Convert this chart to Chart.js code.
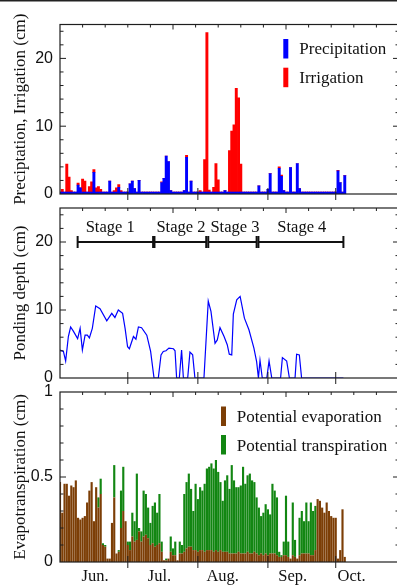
<!DOCTYPE html>
<html><head><meta charset="utf-8">
<script src="https://cdn.jsdelivr.net/npm/chart.js@4.4.0/dist/chart.umd.min.js"></script>
<style>
html,body{margin:0;padding:0;background:#fff;overflow:hidden;}
#wrap{position:relative;width:397px;height:586px;overflow:hidden;background:#fff;}
canvas{position:absolute;left:0;top:0;}
</style></head><body>
<div id="wrap">
<canvas id="c1" width="420" height="586"></canvas>
<canvas id="c2" width="420" height="586"></canvas>
<canvas id="c3" width="420" height="586"></canvas>
</div>
<script>
// ---------- axis definitions ----------
const xMin = 0, xMax = 150;              // days since 1 June
const xTickStep = 10, xMajorStep = 50;
const monthBoundaries = [30, 61, 92, 122];
const monthLabels = ['Jun.', 'Jul.', 'Aug.', 'Sep.', 'Oct.'];
const monthLabelDays = [15.5, 44, 72, 103, 129];
const lastDay = 126;

// ---------- panel 1: precipitation / irrigation (cm) ----------
const precipDays   = [8,9,15,22,26,31,32,33,35,45,46,47,48,49,50,55,56,58,73,88,92,93,97,98,99,102,105,106,123,124,126];
const precipValues = [1.3,0.9,3.2,1.9,1.0,1.5,1.9,0.8,2.0,1.7,2.3,5.6,4.8,0.5,0.2,0.5,5.4,1.9,0.5,1.2,0.7,3.0,3.8,2.6,0.5,3.9,4.5,0.8,3.4,1.7,2.7];
const irrigDays    = [1,3,4,5,8,10,11,13,14,15,16,17,18,24,25,26,27,45,56,62,64,65,66,68,69,70,75,76,77,78,79,80,97,98,123];
const irrigValues  = [0.4,4.1,2.2,0.2,0.3,1.9,1.6,0.8,1.5,0.4,0.6,0.8,0.4,0.2,0.6,0.4,0.2,0.1,0.3,0.2,4.8,23.5,0.3,0.7,4.2,1.8,6.1,9.0,9.9,15.3,13.9,4.1,0.2,0.2,0.1];

// ---------- panel 2: ponding depth (cm) ----------
const pondDay = [0,1.5,2.5,3.7,4.7,5.9,7.8,8.9,9.9,11.1,12.1,13.0,14.3,15.8,17.7,20.7,22.9,24.3,25.8,27.7,28.8,29.9,30.7,32.5,33.6,34.7,36.1,38.4,40.1,41.6,43.5,44.7,45.7,46.9,48.2,50.2,50.9,51.6,52.8,53.8,54.6,56.5,57.5,58.7,59.7,63.7,65.6,66.8,68.6,69.6,70.8,72.6,74.0,74.9,76.0,76.7,78.2,79.7,81.6,83.6,85.8,87.0,87.8,88.5,89.5,91.5,92.5,93.7,97.6,98.4,100.3,101.5,104.0,104.7,105.9,106.9,125.4];
const pondDepth = [4.1,3.9,2.5,6.1,7.5,6.9,5.8,7.3,4.1,6.3,6.3,5.9,7.3,10.6,10.2,8.4,9.5,8.9,10.0,9.5,7.3,4.6,4.3,6.1,5.7,7.5,7.4,6.3,3.9,0,0,3.4,3.9,4.0,4.4,4.3,4.0,0,0,4.1,0,0,3.8,3.4,0,0,11.3,9.8,5.1,5.6,7.4,6.1,4.9,3.5,3.4,9.4,11.5,12.0,8.8,7.1,4.4,2.4,0,2.6,0,0,2.5,0,0,3.0,2.5,0,0,3.5,3.4,0,0];
const stageNames = ['Stage 1','Stage 2','Stage 3','Stage 4'];
const stageStart = [7.8, 41.8, 65.6, 87.8];
const stageEnd   = [41.2, 64.7, 87.0, 125.4];
const stageLevel = 20;
const stageLabelDay = [22.2, 53.5, 77.4, 107];
const stageLabelLevel = 21.4;

// ---------- panel 3: potential evaporation / transpiration (cm), days 0..126 ----------
const evapValues = [0.47,0.29,0.46,0.46,0.39,0.45,0.44,0.48,
0.26,0.25,0.26,0.27,0.35,0.42,0.47,0.24,0.44,0.32,0.40,0.10,
0.09,0.02,0.02,0.23,0.38,0.05,0.06,0.20,0.30,0.24,
0.10,0.07,0.15,0.12,0.13,0.18,0.12,0.15,0.16,0.14,
0.10,0.11,0.09,0.10,0.11,0.06,0.01,0.01,0.02,0.06,
0.04,0.04,0.01,0.05,0.05,0.06,0.08,0.09,0.09,0.07,
0.07,0.06,0.07,0.07,0.06,0.07,0.07,0.07,0.06,0.07,
0.06,0.07,0.06,0.06,0.06,0.05,0.05,0.05,0.05,0.06,
0.05,0.05,0.05,0.06,0.05,0.05,0.06,0.05,0.04,0.05,
0.04,0.05,0.04,0.05,0.05,0.05,0.04,0.03,0.03,0.04,
0.04,0.03,0.02,0.04,0.03,0.02,0.04,0.05,0.05,0.05,
0.05,0.04,0.04,0.07,0.37,0.36,0.32,0.29,0.35,0.30,
0.27,0.26,0.26,0.02,0.07,0.31,0.03];
const transpValues = [0,0,0,0,0,0,0,0,
0,0,0,0,0,0,0,0,0,0.06,0.09,0.01,
0.01,0,0,0,0.19,0,0.01,0.22,0.26,0,
0.02,0.05,0.14,0.12,0.39,0.02,0.06,0.27,0.24,0.18,
0.13,0.22,0.26,0.19,0.29,0.06,0,0.01,0,0.09,
0.04,0.08,0,0.07,0.05,0.34,0.39,0.43,0.34,0.23,
0.39,0.31,0.37,0.35,0.40,0.48,0.49,0.51,0.49,0.53,
0.47,0.40,0.30,0.42,0.45,0.38,0.52,0.43,0.39,0.38,
0.40,0.51,0.41,0.45,0.47,0.43,0.41,0.33,0.28,0.22,
0.25,0.29,0.27,0.23,0.41,0.37,0.34,0.03,0.01,0.08,
0.35,0.09,0,0.31,0.10,0,0.22,0.25,0.19,0.30,
0.19,0.31,0.26,0.26,0,0,0,0,0,0,
0,0,0,0,0,0,0];

// ---------- helpers ----------
const SERIF = '"Liberation Serif", "Times New Roman", serif';
const SANS = '"Liberation Sans", Arial, sans-serif';
function daily(days, vals) {
  const out = [];
  for (let d = 0; d <= lastDay; d++) out.push({x: d, y: 0});
  days.forEach((d, i) => { out[d].y = vals[i]; });
  return out;
}
function series(xs, ys) { return xs.map((x, i) => ({x, y: ys[i]})); }

const framePlugin = {
  id: 'frameTicks',
  afterDatasetsDraw(chart, args, o) {
    const {ctx, chartArea: a} = chart;
    const x = chart.scales.x, y = chart.scales.y;
    ctx.save();
    ctx.strokeStyle = '#1e1e1e';
    const seg = (x1, y1, x2, y2) => { ctx.beginPath(); ctx.moveTo(x1, y1); ctx.lineTo(x2, y2); ctx.stroke(); };
    ctx.lineWidth = 1.2;
    ctx.strokeRect(a.left, a.top, a.right - a.left, a.bottom - a.top);
    ctx.lineWidth = 1;
    for (let d = xTickStep; d < xMax; d += xTickStep) {
      const px = x.getPixelForValue(d);
      seg(px, a.top, px, a.top + (d % xMajorStep === 0 ? 5 : 3));
    }
    monthBoundaries.forEach(d => {
      const px = x.getPixelForValue(d);
      seg(px, a.bottom - 6, px, a.bottom + 6);
    });
    const n = Math.round(o.yMax / o.yMinor);
    for (let i = 1; i < n; i++) {
      const v = i * o.yMinor;
      const py = y.getPixelForValue(v);
      const r = v / o.yMajor;
      const len = Math.abs(r - Math.round(r)) < 1e-6 ? 6 : 3.5;
      seg(a.left, py, a.left + len, py);
      seg(a.right, py, a.right - len, py);
    }
    if (o.topLine) {
      ctx.fillStyle = '#222';
      ctx.fillRect(0, 0, chart.width, 1.5);
    }
    if (o.legend) {
      const L = o.legend;
      ctx.font = '17px ' + SERIF;
      ctx.textAlign = 'left';
      ctx.textBaseline = 'alphabetic';
      L.items.forEach((di, k) => {
        const ds = chart.data.datasets[di];
        ctx.fillStyle = ds.backgroundColor;
        ctx.fillRect(L.markerX, L.markerTop[k], 5, 19.5);
        ctx.fillStyle = '#111';
        ctx.fillText(ds.label, L.textX, L.baseline[k]);
      });
    }
    if (o.stages) {
      ctx.font = '16.5px ' + SERIF;
      ctx.textAlign = 'center';
      ctx.textBaseline = 'alphabetic';
      ctx.fillStyle = '#111';
      stageNames.forEach((s, i) => {
        ctx.fillText(s, x.getPixelForValue(stageLabelDay[i]), y.getPixelForValue(stageLabelLevel));
      });
    }
    ctx.restore();
  }
};

function yScale(max, step, title, fmt) {
  return {
    type: 'linear', min: 0, max: max,
    grid: {display: false, drawTicks: false},
    border: {display: false},
    ticks: {stepSize: step, includeBounds: false, padding: 7, color: '#111',
            font: {family: SANS, size: 16}, callback: fmt || (v => String(v))},
    title: {display: true, text: title, color: '#111', font: {family: SERIF, size: 17}, padding: {top: 10, bottom: 0}},
    afterFit(s) { s.width = 60; }
  };
}
function xHidden(stacked) {
  return {type: 'linear', min: xMin, max: xMax, display: false, offset: false, stacked: !!stacked};
}
const common = {
  responsive: false, devicePixelRatio: 1, animation: false, events: [],
};

// ---------- chart 1 ----------
new Chart(document.getElementById('c1'), {
  type: 'bar',
  data: {datasets: [
    {label: 'Precipitation', data: daily(precipDays, precipValues), backgroundColor: 'rgb(0,0,255)',
     barPercentage: 1, categoryPercentage: 1, minBarLength: 2, borderWidth: 0},
    {label: 'Irrigation', data: daily(irrigDays, irrigValues), backgroundColor: 'rgb(255,0,0)',
     barPercentage: 1, categoryPercentage: 1, borderWidth: 0}
  ]},
  options: Object.assign({}, common, {
    layout: {padding: {left: 0, right: 21, top: 24.5, bottom: 392}},
    plugins: {legend: {display: false}, tooltip: {enabled: false},
      frameTicks: {yMax: 25, yMinor: 2, yMajor: 10, topLine: true,
        legend: {items: [0, 1], markerX: 283.3, markerTop: [39, 67.7], textX: 299.3, baseline: [54, 82.5]}}},
    scales: {x: xHidden(true), y: Object.assign(yScale(25, 10, 'Preciptation, Irrigation (cm)'), {stacked: true})}
  }),
  plugins: [framePlugin]
});

// ---------- chart 2 ----------
const stageSets = stageNames.map((s, i) => ({
  label: s, data: [{x: stageStart[i], y: stageLevel}, {x: stageEnd[i], y: stageLevel}],
  showLine: true, borderColor: '#111', borderWidth: 2, pointStyle: 'line', pointRotation: 90,
  pointRadius: 6, pointBorderWidth: 2, pointBorderColor: '#111', pointBackgroundColor: '#111'
}));
new Chart(document.getElementById('c2'), {
  type: 'scatter',
  data: {datasets: [
    {label: 'Ponding depth', data: series(pondDay, pondDepth), showLine: true, borderColor: 'rgb(0,0,255)',
     borderWidth: 1.2, pointRadius: 0, tension: 0}
  ].concat(stageSets)},
  options: Object.assign({}, common, {
    layout: {padding: {left: 0, right: 21, top: 208, bottom: 208}},
    plugins: {legend: {display: false}, tooltip: {enabled: false},
      frameTicks: {yMax: 25, yMinor: 2, yMajor: 10, stages: true}},
    scales: {x: xHidden(false), y: yScale(25, 10, 'Ponding depth (cm)')}
  }),
  plugins: [framePlugin]
});

// ---------- chart 3 ----------
const allDays = evapValues.map((v, i) => i);
new Chart(document.getElementById('c3'), {
  type: 'bar',
  data: {datasets: [
    {label: 'Potential evaporation', data: series(allDays, evapValues), backgroundColor: 'rgb(124,62,6)',
     barPercentage: 0.95, categoryPercentage: 1, borderWidth: 0},
    {label: 'Potential transpiration', data: series(allDays, transpValues), backgroundColor: 'rgb(18,134,18)',
     barPercentage: 0.95, categoryPercentage: 1, borderWidth: 0}
  ]},
  options: Object.assign({}, common, {
    layout: {padding: {left: 0, right: 21, top: 392, bottom: 0}},
    plugins: {legend: {display: false}, tooltip: {enabled: false},
      frameTicks: {yMax: 1, yMinor: 0.1, yMajor: 0.5,
        legend: {items: [0, 1], markerX: 221, markerTop: [406.5, 435], textX: 236.7, baseline: [422.3, 451]}}},
    scales: {
      x: {type: 'linear', min: xMin, max: xMax, stacked: true, offset: false,
          grid: {display: false, drawTicks: false, offset: false}, border: {display: false},
          afterBuildTicks(s) { s.ticks = monthLabelDays.map(v => ({value: v})); },
          ticks: {autoSkip: false, maxRotation: 0, padding: 5, color: '#111',
                  font: {family: SERIF, size: 16.5}, callback: (v, i) => monthLabels[i]},
          afterFit(s) { s.height = 24; }},
      y: Object.assign(yScale(1, 0.5, 'Evapotranspiration (cm)'), {stacked: true})
    }
  }),
  plugins: [framePlugin]
});
</script>
</body></html>
